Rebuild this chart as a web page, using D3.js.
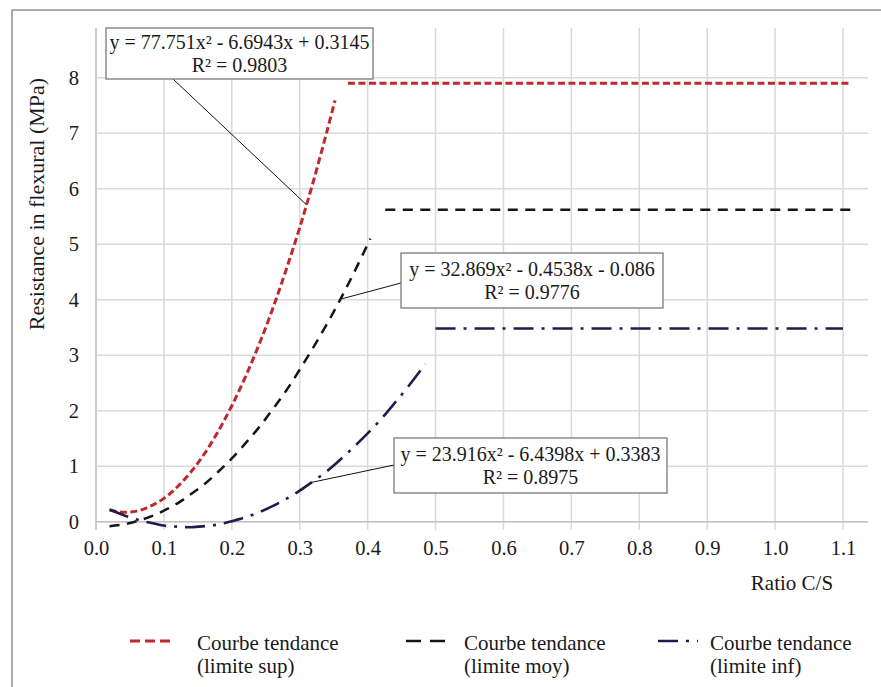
<!DOCTYPE html>
<html>
<head>
<meta charset="utf-8">
<script src="https://cdn.jsdelivr.net/npm/d3@7"></script>
<style>
  body { margin: 0; background: #fff; }
</style>
</head>
<body>
<div id="chart"></div>
<script>
// trend curves (x = ratio C/S, y = MPa)
const xSup = [0.02, 0.04, 0.06, 0.08, 0.10, 0.12, 0.14, 0.16, 0.18, 0.20, 0.22, 0.24, 0.26, 0.28, 0.30, 0.32, 0.34, 0.352];
const ySup = [0.21, 0.17, 0.19, 0.28, 0.42, 0.63, 0.90, 1.23, 1.63, 2.09, 2.61, 3.19, 3.83, 4.54, 5.30, 6.13, 7.03, 7.59];

const xMoy = [0.02, 0.04, 0.06, 0.08, 0.10, 0.12, 0.14, 0.16, 0.18, 0.20, 0.22, 0.24, 0.26, 0.28, 0.30, 0.32, 0.34, 0.36, 0.38, 0.404];
const yMoy = [-0.08, -0.05, 0.01, 0.09, 0.20, 0.33, 0.50, 0.68, 0.90, 1.14, 1.41, 1.70, 2.02, 2.36, 2.74, 3.14, 3.56, 4.01, 4.49, 5.10];

const xInf = [0.02, 0.04, 0.06, 0.08, 0.10, 0.12, 0.14, 0.16, 0.18, 0.20, 0.22, 0.24, 0.26, 0.28, 0.30, 0.32, 0.34, 0.36, 0.38, 0.40, 0.42, 0.44, 0.46, 0.485];
const yInf = [0.22, 0.12, 0.04, -0.02, -0.07, -0.09, -0.10, -0.08, -0.05, 0.01, 0.08, 0.17, 0.28, 0.41, 0.56, 0.73, 0.91, 1.12, 1.35, 1.59, 1.85, 2.14, 2.44, 2.84];

// horizontal plateau lines
const plateauStart = [0.371, 0.426, 0.50];
const plateauEnd = [1.112, 1.113, 1.10];
const plateauLevel = [7.90, 5.62, 3.48];

const xTicks = [0.0, 0.1, 0.2, 0.3, 0.4, 0.5, 0.6, 0.7, 0.8, 0.9, 1.0, 1.1];
const yTicks = [0, 1, 2, 3, 4, 5, 6, 7, 8];

const legendLine1 = ["Courbe tendance", "Courbe tendance", "Courbe tendance"];
const legendLine2 = ["(limite sup)", "(limite moy)", "(limite inf)"];
const equations = ["y = 77.751x\u00b2 - 6.6943x + 0.3145", "y = 32.869x\u00b2 - 0.4538x - 0.086", "y = 23.916x\u00b2 - 6.4398x + 0.3383"];
const r2Labels = ["R\u00b2 = 0.9803", "R\u00b2 = 0.9776", "R\u00b2 = 0.8975"];
// where each equation's leader line touches its curve
const anchorX = [0.31, 0.36, 0.318];
const anchorY = [5.71, 4.01, 0.71];

const colors = ["#c1282d", "#151515", "#211c4e"];
const dashes = ["7,3.5", "10,7.5", "20,8,3,8"];
const legendDashes = ["10,5", "15,9", "20,8,3,8"];
const widths = [3, 2.5, 2.6];

const FONT = '"Liberation Serif", "Times New Roman", serif';

var width = 881, height = 687;

var svg = d3.select("#chart").append("svg")
  .attr("width", width)
  .attr("height", height);

function label(sel, size) {
  return sel.style("font-family", FONT)
    .style("font-size", (size || 20) + "px")
    .attr("fill", "#1a1a1a");
}

var x = d3.scaleLinear().domain([0, 1.1]).range([96, 843]);
var y = d3.scaleLinear().domain([0, 8]).range([521.7, 77.7]);
var plotTop = 28, plotRight = 868;

// outer frame (only top and left edges fall inside the picture)
svg.append("rect")
  .attr("x", 12).attr("y", 10)
  .attr("width", 900).attr("height", 700)
  .attr("fill", "none")
  .attr("stroke", "#808080")
  .attr("stroke-width", 1.3);

// grid
svg.append("g").selectAll("line")
  .data(yTicks)
  .enter().append("line")
  .attr("x1", x(0)).attr("x2", plotRight)
  .attr("y1", d => y(d)).attr("y2", d => y(d))
  .attr("stroke", "#d9d9d9")
  .attr("stroke-width", 1.5);

svg.append("g").selectAll("line")
  .data(xTicks)
  .enter().append("line")
  .attr("x1", d => x(d)).attr("x2", d => x(d))
  .attr("y1", plotTop).attr("y2", y(0) + 8)
  .attr("stroke", "#d9d9d9")
  .attr("stroke-width", 1.5);

// axis lines
svg.append("line")
  .attr("x1", x(0)).attr("x2", plotRight)
  .attr("y1", y(0)).attr("y2", y(0))
  .attr("stroke", "#c4c4c4").attr("stroke-width", 1.5);
svg.append("line")
  .attr("x1", x(0)).attr("x2", x(0))
  .attr("y1", plotTop).attr("y2", y(0) + 8)
  .attr("stroke", "#c4c4c4").attr("stroke-width", 1.5);

// tick labels
var xAxis = d3.axisBottom(x)
  .tickValues(xTicks)
  .tickFormat(d3.format(".1f"))
  .tickSize(0)
  .tickPadding(19);
var gx = svg.append("g")
  .attr("transform", "translate(0," + y(0) + ")")
  .call(xAxis);

var yAxis = d3.axisLeft(y)
  .tickValues(yTicks)
  .tickFormat(d3.format("d"))
  .tickSize(0)
  .tickPadding(17);
var gy = svg.append("g")
  .attr("transform", "translate(" + x(0) + ",0)")
  .call(yAxis);

[gx, gy].forEach(function (g) {
  g.attr("font-family", null).attr("font-size", null);
  g.select(".domain").remove();
  label(g.selectAll(".tick text"), 20.5);
});

label(svg.append("text"), 21)
  .attr("x", 792).attr("y", 590)
  .attr("text-anchor", "middle")
  .text("Ratio C/S");

label(svg.append("text"), 22)
  .attr("transform", "translate(44,204) rotate(-90)")
  .attr("text-anchor", "middle")
  .text("Resistance in flexural (MPa)");

// curves
var line = d3.line()
  .x(d => x(d[0]))
  .y(d => y(d[1]))
  .curve(d3.curveCatmullRom);

var curves = [
  d3.zip(xSup, ySup),
  d3.zip(xMoy, yMoy),
  d3.zip(xInf, yInf)
];

curves.forEach(function (pts, i) {
  svg.append("path")
    .attr("d", line(pts))
    .attr("fill", "none")
    .attr("stroke", colors[i])
    .attr("stroke-width", widths[i])
    .attr("stroke-dasharray", dashes[i]);

  svg.append("line")
    .attr("x1", x(plateauStart[i])).attr("x2", x(plateauEnd[i]))
    .attr("y1", y(plateauLevel[i])).attr("y2", y(plateauLevel[i]))
    .attr("stroke", colors[i])
    .attr("stroke-width", widths[i])
    .attr("stroke-dasharray", dashes[i]);
});

// equation boxes: box rect in px and where the leader leaves the box
var boxes = [
  { x: 106, y: 28, w: 267, h: 51, lx: 173, ly: 79 },
  { x: 401, y: 253, w: 262, h: 55, lx: 401, ly: 283 },
  { x: 394, y: 438, w: 273, h: 55, lx: 394, ly: 465 }
];

boxes.forEach(function (b, i) {
  svg.append("line")
    .attr("x1", b.lx).attr("y1", b.ly)
    .attr("x2", x(anchorX[i])).attr("y2", y(anchorY[i]))
    .attr("stroke", "#111")
    .attr("stroke-width", 1);

  svg.append("rect")
    .attr("x", b.x).attr("y", b.y)
    .attr("width", b.w).attr("height", b.h)
    .attr("fill", "#fff")
    .attr("stroke", "#7a7a7a")
    .attr("stroke-width", 1.3);

  label(svg.append("text"))
    .attr("x", b.x + b.w / 2).attr("y", b.y + b.h / 2 - 5)
    .attr("text-anchor", "middle")
    .text(equations[i]);

  label(svg.append("text"))
    .attr("x", b.x + b.w / 2).attr("y", b.y + b.h / 2 + 18)
    .attr("text-anchor", "middle")
    .text(r2Labels[i]);
});

// legend
var legendX = [130, 406, 658];
var legendTextX = [197, 464, 710];

var legend = svg.selectAll(".legend")
  .data(legendLine1)
  .enter().append("g")
  .attr("class", "legend");

legend.append("line")
  .attr("x1", (d, i) => legendX[i])
  .attr("x2", (d, i) => legendX[i] + 40)
  .attr("y1", 641).attr("y2", 641)
  .attr("stroke", (d, i) => colors[i])
  .attr("stroke-width", (d, i) => widths[i])
  .attr("stroke-dasharray", (d, i) => legendDashes[i]);

label(legend.append("text"), 21)
  .attr("x", (d, i) => legendTextX[i])
  .attr("y", 650)
  .text(d => d);

label(legend.append("text"), 21)
  .attr("x", (d, i) => legendTextX[i])
  .attr("y", 673)
  .text((d, i) => legendLine2[i]);
</script>
</body>
</html>
